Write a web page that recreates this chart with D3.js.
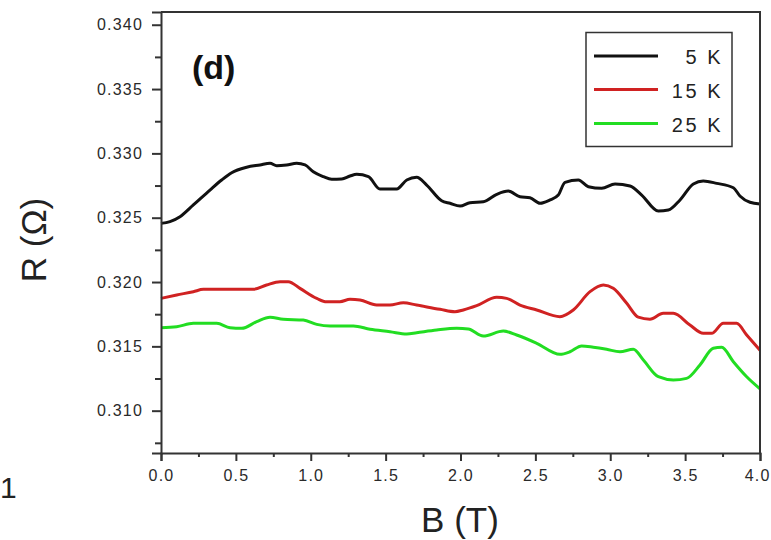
<!DOCTYPE html>
<html><head><meta charset="utf-8">
<script src="https://cdn.jsdelivr.net/npm/d3@7"></script>
<style>
html,body{margin:0;padding:0;background:#fff;}
svg{display:block;}
</style></head>
<body>
<script>
// ---- data ----
const seriesNames = ["5 K", "15 K", "25 K"];
const seriesColors = ["#111111", "#d02222", "#22dd22"];
const xTicks = [0, 0.5, 1.0, 1.5, 2.0, 2.5, 3.0, 3.5, 4.0];
const xMinorTicks = [0.25, 0.75, 1.25, 1.75, 2.25, 2.75, 3.25, 3.75];
const yTicks = [0.310, 0.315, 0.320, 0.325, 0.330, 0.335, 0.340];
const yMinorTicks = [0.3075, 0.3125, 0.3175, 0.3225, 0.3275, 0.3325, 0.3375];

const data5K = [[0,0.32456],[0.06,0.32470],[0.127,0.32508],[0.216,0.32599],[0.327,0.32715],[0.405,0.32793],[0.472,0.32850],[0.572,0.32892],[0.661,0.32910],[0.728,0.32923],[0.773,0.32904],[0.839,0.32910],[0.906,0.32923],[0.962,0.32910],[1.017,0.32857],[1.084,0.32819],[1.140,0.32798],[1.207,0.32801],[1.262,0.32824],[1.307,0.32837],[1.385,0.32819],[1.462,0.32723],[1.574,0.32723],[1.641,0.32793],[1.707,0.32814],[1.774,0.32754],[1.874,0.32632],[1.930,0.32612],[1.997,0.32591],[2.063,0.32617],[2.152,0.32624],[2.242,0.32682],[2.319,0.32707],[2.397,0.32663],[2.464,0.32655],[2.531,0.32612],[2.598,0.32638],[2.653,0.32676],[2.698,0.32775],[2.787,0.32793],[2.854,0.32741],[2.943,0.32728],[3.032,0.32762],[3.132,0.32746],[3.210,0.32676],[3.321,0.32552],[3.388,0.32560],[3.466,0.32638],[3.555,0.32762],[3.621,0.32785],[3.711,0.32767],[3.822,0.32733],[3.866,0.32669],[3.933,0.32620],[4.0,0.32607]];
const data15K = [[0,0.31873],[0.105,0.31899],[0.216,0.31925],[0.283,0.31943],[0.616,0.31943],[0.705,0.31977],[0.795,0.32003],[0.850,0.32003],[0.928,0.31951],[1.040,0.31873],[1.106,0.31847],[1.195,0.31847],[1.262,0.31866],[1.329,0.31860],[1.440,0.31821],[1.529,0.31821],[1.618,0.31839],[1.707,0.31821],[1.863,0.31788],[1.963,0.31769],[2.019,0.31783],[2.108,0.31816],[2.242,0.31881],[2.308,0.31873],[2.397,0.31821],[2.509,0.31783],[2.664,0.31731],[2.753,0.31783],[2.865,0.31925],[2.954,0.31977],[3.020,0.31951],[3.110,0.31835],[3.187,0.31727],[3.265,0.31711],[3.354,0.31757],[3.421,0.31757],[3.532,0.31666],[3.621,0.31601],[3.677,0.31601],[3.755,0.31679],[3.844,0.31679],[3.911,0.31588],[4.0,0.31470]];
const data25K = [[0,0.31645],[0.105,0.31653],[0.216,0.31679],[0.372,0.31679],[0.461,0.31645],[0.539,0.31640],[0.639,0.31692],[0.728,0.31726],[0.817,0.31710],[0.950,0.31705],[1.040,0.31671],[1.129,0.31658],[1.285,0.31658],[1.396,0.31633],[1.529,0.31614],[1.641,0.31596],[1.707,0.31606],[1.841,0.31627],[1.975,0.31640],[2.052,0.31635],[2.152,0.31580],[2.286,0.31619],[2.375,0.31588],[2.509,0.31524],[2.664,0.31438],[2.731,0.31458],[2.809,0.31503],[2.887,0.31493],[2.976,0.31477],[3.065,0.31458],[3.154,0.31477],[3.221,0.31394],[3.321,0.31264],[3.421,0.31239],[3.510,0.31251],[3.599,0.31355],[3.688,0.31485],[3.744,0.31493],[3.822,0.31381],[3.911,0.31264],[4.0,0.31170]];
const allSeries = [data5K, data15K, data25K];

// ---- chart ----
const W = 771, H = 540;
const svg = d3.select("body").append("svg").attr("width", W).attr("height", H)
  .style("font-family", "Arial, 'Liberation Sans', sans-serif");

const pL = 161, pR = 760, pT = 12, pB = 453;
const x = d3.scaleLinear().domain([0, 4]).range([pL, pR]);
const y = d3.scaleLinear().domain([0.30671, 0.34099]).range([pB, pT]);

const axisColor = "#333";

// curves
const line = d3.line().x(d => x(d[0])).y(d => y(d[1])).curve(d3.curveMonotoneX);
svg.append("g").selectAll("path").data(allSeries).join("path")
  .attr("d", line).attr("fill", "none")
  .attr("stroke", (d, i) => seriesColors[i]).attr("stroke-width", 3)
  .attr("stroke-linejoin", "round");

// frame
svg.append("path")
  .attr("d", `M${pL},${pT}H${pR}V${pB}`)
  .attr("fill", "none").attr("stroke", axisColor).attr("stroke-width", 2);

// x axis
const gx = svg.append("g").attr("transform", `translate(0,${pB})`)
  .call(d3.axisBottom(x).tickValues(xTicks).tickSize(8).tickPadding(9).tickFormat(d3.format(".1f")));
svg.append("g").attr("transform", `translate(0,${pB})`)
  .call(d3.axisBottom(x).tickValues(xMinorTicks).tickSize(4).tickFormat(""))
  .call(g => g.select(".domain").remove());

// y axis
const gy = svg.append("g").attr("transform", `translate(${pL},0)`)
  .call(d3.axisLeft(y).tickValues(yTicks).tickSize(9).tickPadding(9).tickFormat(d3.format(".3f")));
svg.append("g").attr("transform", `translate(${pL},0)`)
  .call(d3.axisLeft(y).tickValues(yMinorTicks).tickSize(6).tickFormat(""))
  .call(g => g.select(".domain").remove());

svg.selectAll(".domain").attr("stroke", axisColor).attr("stroke-width", 2);
svg.selectAll(".tick line").attr("stroke", axisColor).attr("stroke-width", 2);
svg.selectAll(".tick text").attr("fill", "#2a2a2a").style("font-size", "16px")
  .style("letter-spacing", "1.2px");
// keep the last x label inside the picture, as in the reference
gx.selectAll(".tick text").filter(d => d === 4).attr("text-anchor", "end").attr("x", 10);

// axis titles
svg.append("text").attr("x", 460).attr("y", 532).attr("text-anchor", "middle")
  .style("font-size", "35px").attr("fill", "#222").text("B (T)");
svg.append("text").attr("transform", "translate(46,240) rotate(-90)")
  .attr("text-anchor", "middle").style("font-size", "35px").attr("fill", "#222").text("R (Ω)");

// panel label
svg.append("text").attr("x", 192).attr("y", 79).style("font-size", "34px")
  .style("font-weight", "bold").attr("fill", "#111").text("(d)");

// glyph from neighbouring panel at the left edge
svg.append("text").attr("x", 0).attr("y", 498).attr("text-anchor", "start")
  .style("font-size", "30px").attr("fill", "#222").text("1");

// legend
const lg = svg.append("g");
lg.append("rect").attr("x", 586).attr("y", 32.5).attr("width", 146).attr("height", 114)
  .attr("fill", "#fff").attr("stroke", axisColor).attr("stroke-width", 1.5);
const lyPos = [56, 89.5, 123.5];
seriesNames.forEach((name, i) => {
  lg.append("line").attr("x1", 594).attr("x2", 658).attr("y1", lyPos[i]).attr("y2", lyPos[i])
    .attr("stroke", seriesColors[i]).attr("stroke-width", 3);
  lg.append("text").attr("x", 723).attr("y", lyPos[i] + 8).attr("text-anchor", "end")
    .style("font-size", "20px").style("letter-spacing", "2.5px").attr("fill", "#222").text(name);
});
</script>
</body></html>
